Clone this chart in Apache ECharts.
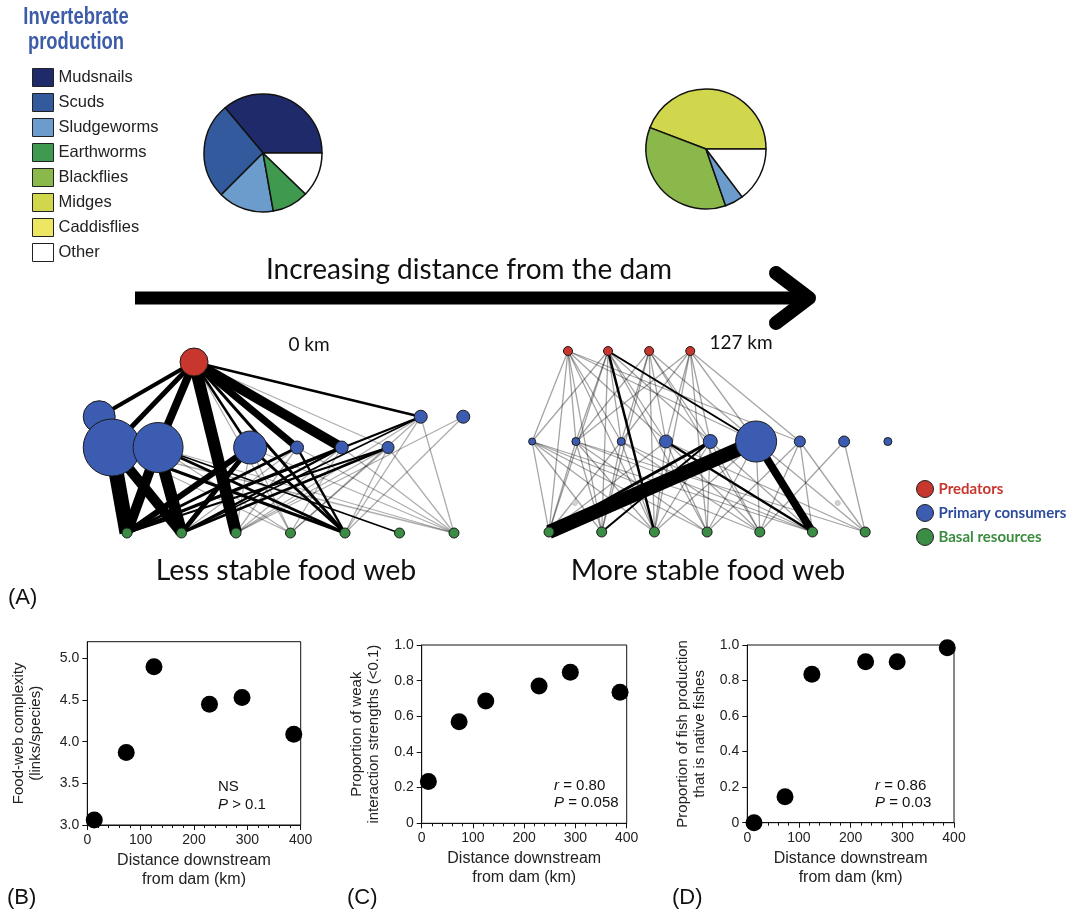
<!DOCTYPE html>
<html>
<head>
<meta charset="utf-8">
<script src="https://cdn.jsdelivr.net/npm/echarts@6/dist/echarts.min.js"></script>
<style>
html,body{margin:0;padding:0;background:#fff;}
#chart{width:1071px;height:915px;}
</style>
</head>
<body>
<div id="chart"></div>
<script>
// invertebrate production, share of each pie (%)
var taxa = ['Mudsnails','Scuds','Sludgeworms','Earthworms','Blackflies','Midges','Caddisflies','Other'];
var taxaColors = ['#1f2a6b','#345a9e','#6c9ccc','#3f9a4f','#8bb84b','#d0d74d','#ece663','#ffffff'];
var pieNearNames = ['Mudsnails','Scuds','Sludgeworms','Earthworms','Other'];
var pieNearValues = [36.1, 26.4, 15.3, 10.0, 12.2];
var pieFarNames = ['Midges','Blackflies','Sludgeworms','Other'];
var pieFarValues = [44.2, 36.1, 5.0, 14.7];

// food webs: column position, trophic level, node size, group
var groups = ['Predators','Primary consumers','Basal resources'];
var groupColors = ['#c8372d','#3b5cb0','#3b8c45'];
var groupTextColors = ['#c8372d','#2d4d9c','#3a8c3e'];

var web0Names = ['p','c0','c1','c2','c3','c4','c5','c6','c7','c8','b0','b1','b2','b3','b4','b5','b6'];
var web0Col   = [1.23,-0.51,-0.28,0.57,2.26,3.12,3.94,4.79,5.39,6.17,0,1,2,3,4,5,6];
var web0Level = [2,1.36,1,1,1,1,1,1,1.36,1.36,0,0,0,0,0,0,0];
var web0Size  = [28,32,57,50,33,13,13,12,13,13,10,10,10,10,10,10,10];
var web0Group = [0,1,1,1,1,1,1,1,1,1,2,2,2,2,2,2,2];
var web0Strong = [
  ['p','c0',4],['p','c1',5],['p','c2',8],['p','b2',12],['p','c4',7],['p','c5',10],['p','c7',2.5],['p','b4',3],['p','c3',2.5],
  ['c1','b0',15],['c1','b1',10],['c2','b0',10],['c2','b1',12],['c0','b0',7],['c3','b0',6],['c3','b1',5],
  ['c1','b4',3],['c2','b4',3],['c4','b0',3],['c5','b0',3],['c6','b1',2.5],['c5','b1',2.5],['c3','b4',3],
  ['c4','b4',2.5],['c6','b0',2],['c7','b0',2],['c7','b1',1.5],['c2','b5',1.5]
];
var web0Weak = [
  ['p','c6'],['p','b3'],['c7','b2'],['c7','b3'],['c7','b4'],['c7','b6'],['c6','b2'],['c6','b3'],
  ['c6','b4'],['c6','b6'],['c8','b4'],['c8','b2'],['c4','b1'],['c4','b2'],['c4','b6'],['c5','b2'],['c5','b3'],
  ['c5','b6'],['c2','b6'],['c3','b6'],['c1','b3'],['c2','b3'],['c3','b2'],['c1','b6'],['c3','b3']
];

var web1Names = ['p0','p1','p2','p3','c0','c1','c2','c3','c4','c5','c6','c7','c8','b0','b1','b2','b3','b4','b5','b6','g0','g1'];
var web1Col   = [0.36,1.12,1.90,2.68,-0.32,0.51,1.37,2.22,3.06,3.93,4.76,5.60,6.43,0,1,2,3,4,5,6,0.49,5.48];
var web1Level = [2,2,2,2,1,1,1,1,1,1,1,1,1,0,0,0,0,0,0,0,0.32,0.32];
var web1Size  = [9,9,9,9,7,8,8,13,14,41,11,11,8,10,10,10,10,10,10,10,5,5];
var web1Group = [0,0,0,0,1,1,1,1,1,1,1,1,1,2,2,2,2,2,2,2,-1,-1];
var web1Strong = [
  ['c5','b0',14],['c5','b5',8],['c4','b0',3],['c3','b5',2.5],['c4','b1',2],['p1','b2',2.5],['p1','c5',2]
];
var web1Weak = [
  ['p0','c0'],['p0','c1'],['p0','c2'],['p0','c3'],['p0','c5'],['p0','c6'],['p0','b0'],['p0','b1'],['p0','b2'],
  ['p1','c0'],['p1','c1'],['p1','c2'],['p1','c3'],['p1','c4'],['p1','b0'],['p1','b1'],['p1','b3'],
  ['p2','c1'],['p2','c2'],['p2','c3'],['p2','c4'],['p2','c5'],['p2','b1'],['p2','b2'],['p2','b4'],
  ['p3','c1'],['p3','c2'],['p3','c3'],['p3','c4'],['p3','c5'],['p3','c6'],['p3','b2'],['p3','b3'],
  ['c0','b0'],['c0','b1'],['c0','b2'],['c0','b3'],['c0','b4'],['c0','b5'],
  ['c1','b0'],['c1','b1'],['c1','b2'],['c1','b3'],['c1','b5'],['c1','b6'],
  ['c2','b0'],['c2','b1'],['c2','b2'],['c2','b4'],['c2','b5'],
  ['c3','b0'],['c3','b2'],['c3','b3'],['c3','b4'],['c3','b6'],
  ['c4','b2'],['c4','b3'],['c4','b4'],['c4','b5'],
  ['c5','b2'],['c5','b3'],['c5','b4'],['c5','b6'],
  ['c6','b3'],['c6','b4'],['c6','b5'],['c6','b6'],['c7','b4'],['c7','b6']
];

// panels B-D
var distanceKm = [13, 73, 125, 229, 290, 387];
var complexity = [3.06, 3.87, 4.90, 4.45, 4.53, 4.09];
var weakShare = [0.235, 0.57, 0.686, 0.77, 0.847, 0.735];
var nativeShare = [0, 0.146, 0.835, 0.906, 0.906, 0.985];
var complexityTicks = [3, 3.5, 4, 4.5, 5];

var sans = "'Liberation Sans', Arial, sans-serif";
var calib = "Lato, 'Open Sans', sans-serif";

function colorOf(name) { return taxaColors[taxa.indexOf(name)]; }
function pieData(names, values) {
  return names.map(function (n, i) { return { name: n, value: values[i], itemStyle: { color: colorOf(n) } }; });
}
function nodes(names, col, level, size, group) {
  return names.map(function (n, i) {
    var d = { name: n, value: [col[i], level[i]], symbolSize: size[i] };
    if (group[i] >= 0) d.category = group[i];
    else d.itemStyle = { color: '#d4d4d4', borderColor: '#c4c4c4' };
    return d;
  });
}
function links(weak, strong, grey) {
  var out = weak.map(function (l) {
    return { source: l[0], target: l[1], lineStyle: { width: 1.3, color: grey } };
  });
  strong.forEach(function (l) {
    out.push({ source: l[0], target: l[1], lineStyle: { width: l[2], color: '#000' } });
  });
  return out;
}
function pts(ys) { return distanceKm.map(function (x, i) { return [x, ys[i]]; }); }

var cats = groups.map(function (g, i) { return { name: g, itemStyle: { color: groupColors[i] } }; });

function distAxis(gi) {
  return {
    type: 'value', gridIndex: gi, min: 0, max: 400, interval: 100,
    name: 'Distance downstream\nfrom dam (km)', nameLocation: 'middle', nameGap: 26,
    nameTextStyle: { fontSize: 16, lineHeight: 19, fontFamily: sans, color: '#222' },
    axisLine: { onZero: false, lineStyle: { color: '#111' } },
    axisTick: { length: 5, lineStyle: { color: '#111' } },
    minorTick: { show: true, splitNumber: 5, length: 3, lineStyle: { color: '#111' } },
    axisLabel: { fontSize: 14, color: '#222', margin: 8, fontFamily: sans },
    splitLine: { show: false }, minorSplitLine: { show: false }
  };
}
function propAxis(gi, name, gap) {
  return {
    type: 'value', gridIndex: gi, min: 0, max: 1, interval: 0.2,
    name: name, nameLocation: 'middle', nameGap: gap, nameRotate: 90,
    nameTextStyle: { fontSize: 15, lineHeight: 17, fontFamily: sans, color: '#222' },
    axisLine: { onZero: false, lineStyle: { color: '#111' } },
    axisTick: { length: 5, lineStyle: { color: '#111' } },
    axisLabel: { fontSize: 14, color: '#222', margin: 8, fontFamily: sans,
      formatter: function (v) { return v === 0 ? '0' : v.toFixed(1); } },
    splitLine: { show: false }
  };
}
function hiddenAxis(gi, min, max) {
  return { type: 'value', gridIndex: gi, min: min, max: max, show: false, splitLine: { show: false } };
}
function note(x, y, text) {
  return { type: 'text', x: x, y: y, style: { text: text, verticalAlign: 'middle', font: '15px ' + sans, fill: '#111',
    rich: { i: { fontStyle: 'italic', fontSize: 15, fontFamily: sans } } } };
}
function bigText(x, y, text, size, family) {
  return { type: 'text', x: x, y: y, style: { text: text, align: family === sans ? 'left' : 'center', verticalAlign: 'middle',
    font: size + 'px ' + family, fill: '#111' } };
}

var frame = { show: true, borderColor: '#111', borderWidth: 1, backgroundColor: 'transparent' };
var dot = { color: '#000', opacity: 1 };

var chart = echarts.init(document.getElementById('chart'));
chart.setOption({
  animation: false,
  backgroundColor: '#fff',
  legend: [
    {
      data: taxa, orient: 'vertical', left: 27, top: 63, icon: 'rect',
      itemWidth: 21, itemHeight: 18, itemGap: 6, selectedMode: false,
      itemStyle: { borderColor: '#222', borderWidth: 1 },
      textStyle: { fontFamily: sans, fontSize: 16.5, color: '#222' }
    },
    {
      data: groups.map(function (g, i) {
        return { name: g, textStyle: { color: groupTextColors[i] } };
      }),
      orient: 'vertical', left: 911, top: 475, icon: 'circle',
      itemWidth: 17, itemHeight: 17, itemGap: 6, selectedMode: false,
      itemStyle: { borderColor: '#222', borderWidth: 1 },
      textStyle: { fontFamily: calib, fontSize: 15, fontWeight: 'bold' }
    }
  ],
  grid: [
    Object.assign({ left: 87.3, top: 641.7, width: 213.4, height: 183.3 }, frame),
    Object.assign({ left: 421.7, top: 645, width: 205, height: 178.3 }, frame),
    Object.assign({ left: 747.3, top: 645, width: 206.7, height: 177.7 }, frame),
    { left: 18, top: 319.25, width: 545, height: 256.5, show: false },
    { left: 443.6, top: 305.75, width: 527, height: 271.5, show: false }
  ],
  xAxis: [distAxis(0), distAxis(1), distAxis(2), hiddenAxis(3, -2, 8), hiddenAxis(4, -2, 8)],
  yAxis: [
    {
      type: 'value', gridIndex: 0, min: 3, max: 5.2,
      name: 'Food-web complexity\n(links/species)', nameLocation: 'middle', nameGap: 43, nameRotate: 90,
      nameTextStyle: { fontSize: 15, lineHeight: 17, fontFamily: sans, color: '#222' },
      axisLine: { onZero: false, lineStyle: { color: '#111' } },
      axisTick: { length: 5, customValues: complexityTicks, lineStyle: { color: '#111' } },
      axisLabel: { fontSize: 14, color: '#222', margin: 8, fontFamily: sans, customValues: complexityTicks,
        formatter: function (v) { return v.toFixed(1); } },
      splitLine: { show: false }
    },
    propAxis(1, 'Proportion of weak\ninteraction strengths (<0.1)', 39),
    propAxis(2, 'Proportion of fish production\nthat is native fishes', 39),
    hiddenAxis(3, -0.5, 2.5),
    hiddenAxis(4, -0.5, 2.5)
  ],
  series: [
    {
      type: 'pie', name: 'key', center: [-200, -200], radius: [0, 0], silent: true,
      label: { show: false }, itemStyle: { borderWidth: 0 },
      data: taxa.map(function (t, i) { return { name: t, value: 1, itemStyle: { color: taxaColors[i] } }; })
    },
    {
      type: 'pie', name: '0 km', center: [263, 153], radius: 59, startAngle: 0, clockwise: false,
      silent: true, label: { show: false }, labelLine: { show: false },
      itemStyle: { borderColor: '#111', borderWidth: 1.5 },
      data: pieData(pieNearNames, pieNearValues)
    },
    {
      type: 'pie', name: '127 km', center: [706, 149], radius: 60, startAngle: 0, clockwise: false,
      silent: true, label: { show: false }, labelLine: { show: false },
      itemStyle: { borderColor: '#111', borderWidth: 1.5 },
      data: pieData(pieFarNames, pieFarValues)
    },
    {
      type: 'graph', layout: 'none', coordinateSystem: 'cartesian2d', xAxisIndex: 3, yAxisIndex: 3,
      categories: cats, silent: true, label: { show: false },
      itemStyle: { borderColor: '#1b1b1b', borderWidth: 1 },
      lineStyle: { opacity: 1, curveness: 0 },
      data: nodes(web0Names, web0Col, web0Level, web0Size, web0Group),
      links: links(web0Weak, web0Strong, 'rgba(0,0,0,0.32)')
    },
    {
      type: 'graph', layout: 'none', coordinateSystem: 'cartesian2d', xAxisIndex: 4, yAxisIndex: 4,
      categories: cats, silent: true, label: { show: false },
      itemStyle: { borderColor: '#1b1b1b', borderWidth: 1 },
      lineStyle: { opacity: 1, curveness: 0 },
      data: nodes(web1Names, web1Col, web1Level, web1Size, web1Group),
      links: links(web1Weak, web1Strong, 'rgba(0,0,0,0.36)')
    },
    { type: 'scatter', xAxisIndex: 0, yAxisIndex: 0, symbolSize: 17, itemStyle: dot, data: pts(complexity) },
    { type: 'scatter', xAxisIndex: 1, yAxisIndex: 1, symbolSize: 17, itemStyle: dot, data: pts(weakShare) },
    { type: 'scatter', xAxisIndex: 2, yAxisIndex: 2, symbolSize: 17, itemStyle: dot, data: pts(nativeShare) }
  ],
  graphic: [
    { type: 'text', x: 76, y: 5, scaleX: 0.8, style: { text: 'Invertebrate\nproduction', align: 'center',
      font: 'bold 23px ' + sans, fill: '#3d5ca8', lineHeight: 25 } },
    { type: 'line', shape: { x1: 135, y1: 298, x2: 803, y2: 298 }, style: { stroke: '#000', lineWidth: 13 } },
    { type: 'polyline', shape: { points: [[776, 273], [809, 298], [776, 323]] },
      style: { stroke: '#000', lineWidth: 14, lineCap: 'round', lineJoin: 'round', fill: null } },
    bigText(469, 270, 'Increasing distance from the dam', 28, calib),
    bigText(309, 345, '0 km', 19, calib),
    bigText(741, 343, '127 km', 19, calib),
    bigText(286, 571, 'Less stable food web', 28.5, calib),
    bigText(708, 571, 'More stable food web', 28.5, calib),
    bigText(8, 598, '(A)', 22, sans),
    bigText(7, 898, '(B)', 22, sans),
    bigText(347, 898, '(C)', 22, sans),
    bigText(672, 898, '(D)', 22, sans),
    note(218, 787, 'NS'),
    note(218, 805, '{i|P} > 0.1'),
    note(554, 786, '{i|r} = 0.80'),
    note(554, 803, '{i|P} = 0.058'),
    note(875, 786, '{i|r} = 0.86'),
    note(875, 803, '{i|P} = 0.03')
  ]
});
</script>
</body>
</html>
